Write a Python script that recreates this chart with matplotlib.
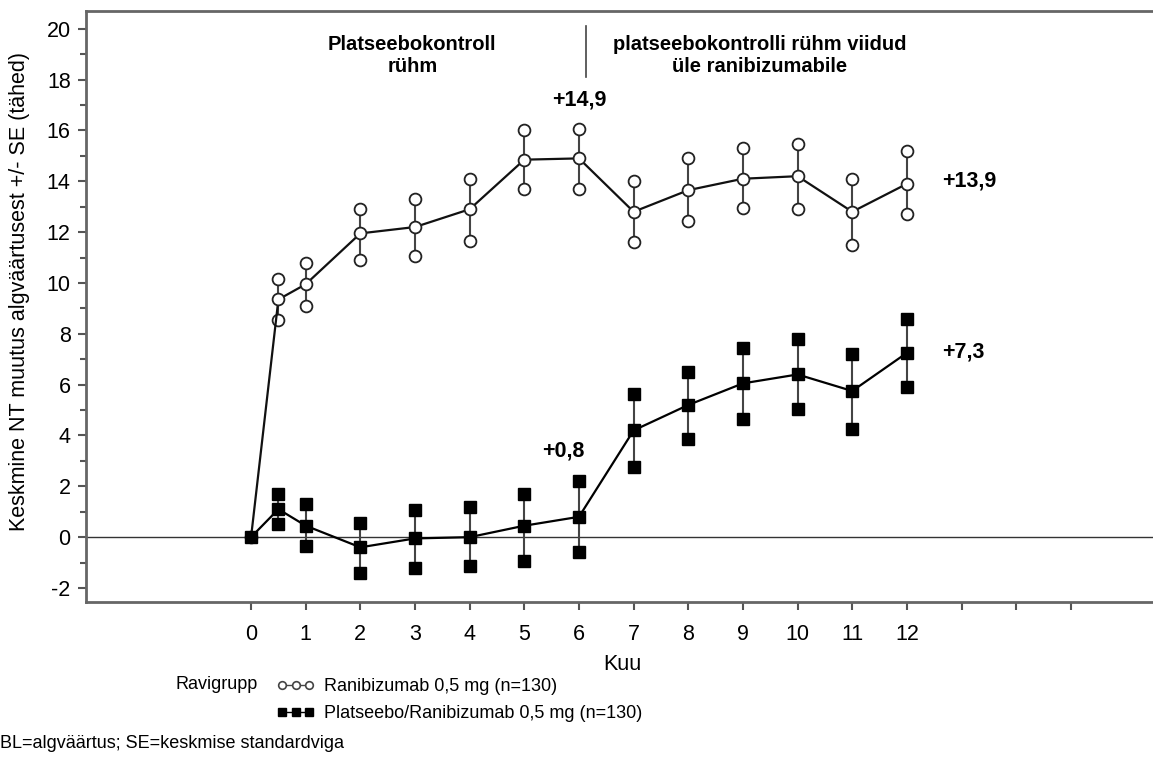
import matplotlib.pyplot as plt
from matplotlib.lines import Line2D

plt.rcParams['font.family'] = ['Liberation Sans', 'DejaVu Sans']
plt.rcParams['axes.unicode_minus'] = False

months = [0, 0.5, 1, 2, 3, 4, 5, 6, 7, 8, 9, 10, 11, 12]

rani_mean = [0, 9.35, 9.95, 11.95, 12.2, 12.9, 14.85, 14.9, 12.8, 13.65, 14.1, 14.2, 12.8, 13.9]
rani_low = [0, 8.55, 9.1, 10.9, 11.05, 11.65, 13.7, 13.7, 11.6, 12.45, 12.95, 12.9, 11.5, 12.7]
rani_high = [0, 10.15, 10.8, 12.9, 13.3, 14.1, 16.0, 16.05, 14.0, 14.9, 15.3, 15.45, 14.1, 15.2]

plac_mean = [0, 1.1, 0.45, -0.4, -0.05, 0.0, 0.45, 0.8, 4.2, 5.2, 6.05, 6.4, 5.75, 7.25]
plac_low = [0, 0.5, -0.35, -1.4, -1.2, -1.15, -0.95, -0.6, 2.75, 3.85, 4.65, 5.05, 4.25, 5.9]
plac_high = [0, 1.7, 1.3, 0.55, 1.05, 1.2, 1.7, 2.2, 5.65, 6.5, 7.45, 7.8, 7.2, 8.6]

x_ticks = list(range(0, 16))
x_tick_labels = [str(i) for i in range(0, 13)] + ['', '', '']

fig = plt.figure(figsize=(11.53, 7.83), dpi=100)
ax = fig.add_axes([0.0746, 0.2312, 0.93, 0.7548])

ax.axhline(0, color='#333333', lw=1.0, zorder=1)

# error bars with marker caps
for i, x in enumerate(months[1:], start=1):
    ax.plot([x, x], [rani_low[i], rani_high[i]], color='#444444', lw=1.5, zorder=2)
    ax.plot([x, x], [plac_low[i], plac_high[i]], color='#444444', lw=1.5, zorder=2)

ax.plot(months[1:], rani_low[1:], 'o', ls='none', ms=8.5, mfc='white', mec='#222222', mew=1.3, zorder=3)
ax.plot(months[1:], rani_high[1:], 'o', ls='none', ms=8.5, mfc='white', mec='#222222', mew=1.3, zorder=3)
ax.plot(months, rani_mean, '-o', color='#111111', lw=1.6, ms=8.5, mfc='white', mec='#222222', mew=1.3, zorder=4)

ax.plot(months[1:], plac_low[1:], 's', ls='none', ms=8.5, color='black', zorder=5)
ax.plot(months[1:], plac_high[1:], 's', ls='none', ms=8.5, color='black', zorder=5)
ax.plot(months, plac_mean, '-s', color='black', lw=1.6, ms=8.5, zorder=6)

ax.text(6.0, 17.2, '+14,9', fontsize=15.5, fontweight='bold', ha='center', va='center')
ax.text(12.65, 14.0, '+13,9', fontsize=15.5, fontweight='bold', ha='left', va='center')
ax.text(12.65, 7.3, '+7,3', fontsize=15.5, fontweight='bold', ha='left', va='center')
ax.text(5.72, 3.4, '+0,8', fontsize=15.5, fontweight='bold', ha='center', va='center')

ax.text(2.95, 18.95, 'Platseebokontroll\nrühm', fontsize=14.5, fontweight='bold',
        ha='center', va='center', linespacing=1.15)
ax.text(9.3, 18.95, 'platseebokontrolli rühm viidud\nüle ranibizumabile', fontsize=14.5, fontweight='bold',
        ha='center', va='center', linespacing=1.15)
ax.plot([6.13, 6.13], [18.1, 20.1], color='#444444', lw=1.2)

ax.set_xlim(-3.02, 16.6)
ax.set_ylim(-2.55, 20.7)
ax.set_xticks(x_ticks)
ax.set_xticklabels(x_tick_labels)
ax.set_yticks(range(-2, 21, 2))
ax.set_yticks(range(-1, 21, 2), minor=True)
ax.tick_params(axis='both', which='major', labelsize=15.5, direction='out', length=6, width=1.5,
               color='#555555')
ax.tick_params(axis='x', pad=10)
ax.tick_params(axis='y', pad=5)
ax.tick_params(axis='y', which='minor', direction='out', length=4, width=1.5, color='#555555')

for side in ['left', 'bottom', 'top']:
    ax.spines[side].set_color('#666666')
    ax.spines[side].set_linewidth(2)
ax.spines['right'].set_visible(False)

ax.set_xlabel('Kuu', fontsize=15.5, labelpad=6)
ax.set_ylabel('Keskmine NT muutus algväärtusest +/- SE (tähed)', fontsize=15.5)
ax.yaxis.set_label_coords(-0.052, 0.525)

handles = [
    Line2D([], [], color='#444444', lw=1, marker='o', ms=5.5, mfc='white', mec='#444444', mew=1.2),
    Line2D([], [], color='black', lw=1, marker='s', ms=5.5, mfc='black', mec='black'),
]
fig.legend(handles, ['Ranibizumab 0,5 mg (n=130)', 'Platseebo/Ranibizumab 0,5 mg (n=130)'],
           loc='upper left', bbox_to_anchor=(0.226, 0.1545), frameon=False, numpoints=3,
           handlelength=2.1, handletextpad=0.5, labelspacing=0.55,
           prop={'family': 'Liberation Sans', 'size': 13})
fig.text(0.152, 0.126, 'Ravigrupp', fontsize=13, va='center')
fig.text(0.0, 0.05, 'BL=algväärtus; SE=keskmise standardviga', fontsize=13, va='center')

fig.savefig('out.png', dpi=100)
